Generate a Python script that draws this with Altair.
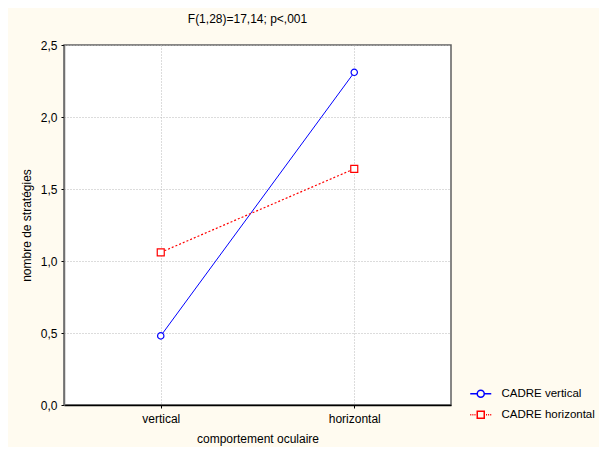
import altair as alt
import pandas as pd

categories = ["vertical", "horizontal"]
series_names = ["CADRE vertical", "CADRE horizontal"]
cadre_vertical = [0.48, 2.31]
cadre_horizontal = [1.06, 1.64]
y_ticks = [0.0, 0.5, 1.0, 1.5, 2.0, 2.5]

rows = []
for c, v in zip(categories, cadre_vertical):
    rows.append({"comportement": c, "serie": series_names[0], "valeur": v})
for c, v in zip(categories, cadre_horizontal):
    rows.append({"comportement": c, "serie": series_names[1], "valeur": v})
df = pd.DataFrame(rows)

FONT = "Liberation Sans"

circle_path = "M-3,0L-1,0M1,0L3,0M1,0A1,1,0,1,1,-1,0A1,1,0,1,1,1,0Z"
square_path = ("M-3,0L-2.7,0M-2.4,0L-2.1,0M-1.8,0L-1.5,0M-1.2,0L-1,0"
               "M1,0L1.2,0M1.5,0L1.8,0M2.1,0L2.4,0M2.7,0L3,0"
               "M-1,-1L1,-1L1,1L-1,1Z")

x_enc = alt.X(
    "comportement:N",
    sort=categories,
    scale=alt.Scale(type="point", padding=0.5),
    axis=alt.Axis(
        title="comportement oculaire",
        labelAngle=0,
        grid=True,
        gridDash=[1, 2],
        gridColor="#b8b8b8",
        domainColor="#000000",
        domainWidth=1.5,
        tickColor="#000000",
        tickSize=3,
        labelPadding=5,
        titlePadding=9,
    ),
)
y_enc = alt.Y(
    "valeur:Q",
    scale=alt.Scale(domain=[0, 2.5], nice=False, zero=False),
    axis=alt.Axis(
        title="nombre de stratégies",
        values=y_ticks,
        labelExpr="replace(format(datum.value, '.1f'), '.', ',')",
        grid=True,
        gridDash=[1, 2],
        gridColor="#b8b8b8",
        domainColor="#707070",
        domainWidth=1.5,
        tickColor="#000000",
        tickSize=3,
        labelPadding=4,
        titlePadding=7,
    ),
)

base = alt.Chart(df)

line_v = base.transform_filter(alt.datum.serie == series_names[0]).mark_line(
    color="#0000FF", strokeWidth=1
).encode(x=x_enc, y=y_enc)
line_h = base.transform_filter(alt.datum.serie == series_names[1]).mark_line(
    color="#FF0000", strokeWidth=1.2, strokeDash=[2, 2]
).encode(x=x_enc, y=y_enc)

pts_v = base.transform_filter(alt.datum.serie == series_names[0]).mark_point(
    shape="circle", filled=False, fill="white", color="#0000FF", size=40,
    strokeWidth=1.2, opacity=1
).encode(x=x_enc, y=y_enc)
pts_h = base.transform_filter(alt.datum.serie == series_names[1]).mark_point(
    shape="square", filled=False, fill="white", color="#FF0000", size=49,
    strokeWidth=1.2, opacity=1
).encode(x=x_enc, y=y_enc)

legend_kw = dict(
    title=None,
    orient="none",
    legendX=411,
    legendY=343,
    symbolSize=49,
    labelOffset=15,
    rowPadding=7,
    padding=0,
    labelFont=FONT,
    labelFontSize=11.5,
    labelColor="#000000",
)

legend_layer = base.transform_filter("false").mark_point(
    filled=False, strokeWidth=1.2, opacity=1
).encode(
    x=x_enc,
    y=y_enc,
    color=alt.Color(
        "serie:N",
        scale=alt.Scale(domain=series_names, range=["#0000FF", "#FF0000"]),
        legend=alt.Legend(**legend_kw),
    ),
    shape=alt.Shape(
        "serie:N",
        scale=alt.Scale(domain=series_names, range=[circle_path, square_path]),
        legend=alt.Legend(**legend_kw),
    ),
)

chart = alt.layer(line_v, line_h, pts_v, pts_h, legend_layer).properties(
    width=387,
    height=360,
    background="#FFFBF0",
    padding={"left": 56, "top": 37, "right": 148, "bottom": 42},
    autosize=alt.AutoSizeParams(type="none"),
    title=alt.TitleParams(
        text="F(1,28)=17,14; p<,001",
        font=FONT,
        fontSize=12,
        fontWeight="normal",
        color="#000000",
        offset=13,
        dx=-10,
    ),
).configure_view(
    fill="white", stroke="#606060", strokeWidth=1.5
).configure_axis(
    labelFont=FONT,
    labelFontSize=12,
    labelColor="#000000",
    titleFont=FONT,
    titleFontSize=12,
    titleFontWeight="normal",
    titleColor="#000000",
)

chart.save("out.html", embed_options={"renderer": "svg", "actions": False})
